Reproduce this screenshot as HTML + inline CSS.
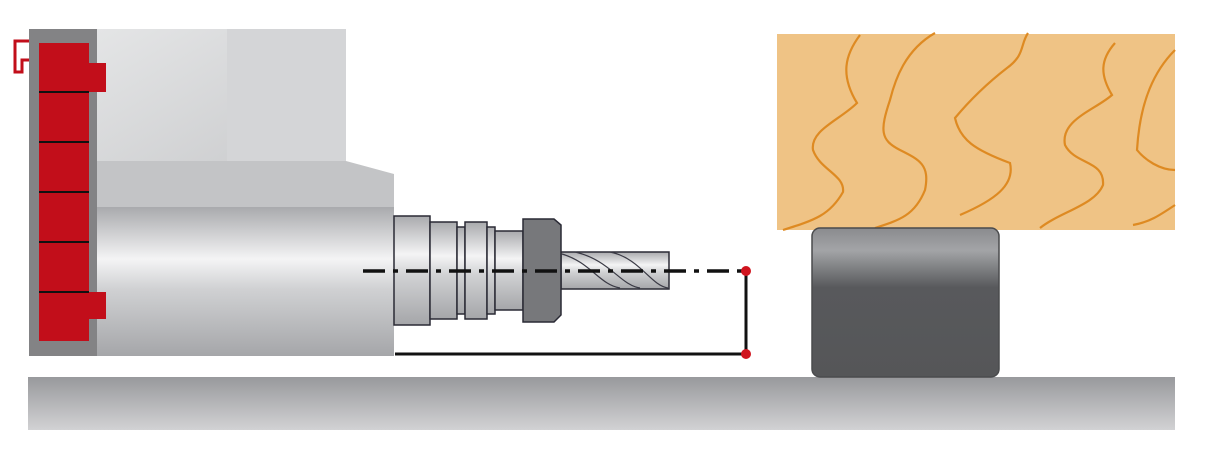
<!DOCTYPE html>
<html><head><style>body{margin:0;background:#fff}svg{display:block}</style></head><body>
<svg width="1218" height="460" viewBox="0 0 1218 460" xmlns="http://www.w3.org/2000/svg">
<defs>
<linearGradient id="cyl" x1="0" y1="0" x2="0" y2="1">
<stop offset="0" stop-color="#a9aaad"/><stop offset="0.35" stop-color="#f4f4f5"/><stop offset="0.55" stop-color="#d0d1d3"/><stop offset="1" stop-color="#a5a6a9"/></linearGradient>
<linearGradient id="blk" x1="0" y1="0" x2="0" y2="1">
<stop offset="0" stop-color="#8a8b8e"/><stop offset="0.15" stop-color="#a3a4a7"/><stop offset="0.4" stop-color="#58595c"/><stop offset="1" stop-color="#555658"/></linearGradient>
<linearGradient id="base" x1="0" y1="0" x2="0" y2="1">
<stop offset="0" stop-color="#98999c"/><stop offset="1" stop-color="#d2d2d4"/></linearGradient>
<linearGradient id="top" x1="0" y1="0" x2="1" y2="1">
<stop offset="0" stop-color="#e4e5e6"/><stop offset="1" stop-color="#c8c9cb"/></linearGradient>
</defs>
<rect x="28" y="377" width="1147" height="53" fill="url(#base)"/>
<rect x="97" y="29" width="249" height="140" fill="url(#top)"/>
<rect x="227" y="29" width="119" height="140" fill="#d4d5d7"/>
<polygon points="97,161 346,161 394,174 394,208 97,208" fill="#c3c4c6"/>
<rect x="97" y="207" width="297" height="149" fill="url(#cyl)"/>
<rect x="29" y="29" width="68" height="327" fill="#838385"/>
<rect x="39" y="43" width="50" height="298" fill="#c20e1a"/>
<rect x="89" y="63" width="17" height="29" fill="#c20e1a"/>
<rect x="89" y="292" width="17" height="27" fill="#c20e1a"/>
<path d="M29,41 H15 V72 H22 V60 H29" fill="none" stroke="#c20e1a" stroke-width="3"/>
<g stroke="#111" stroke-width="2"><line x1="39" y1="92" x2="89" y2="92"/><line x1="39" y1="142" x2="89" y2="142"/><line x1="39" y1="192" x2="89" y2="192"/><line x1="39" y1="242" x2="89" y2="242"/><line x1="39" y1="292" x2="89" y2="292"/></g>
<g stroke="#2a2a35" stroke-width="1.5" fill="url(#cyl)">
<rect x="394" y="216" width="36" height="109"/>
<rect x="430" y="222" width="27" height="97"/>
<rect x="457" y="227" width="8" height="87"/>
<rect x="465" y="222" width="22" height="97"/>
<rect x="487" y="227" width="8" height="87"/>
<rect x="495" y="231" width="28" height="79"/>
<rect x="561" y="252" width="108" height="37"/>
</g>
<path d="M562,254 C590,262 600,285 620,288 M575,252 C610,260 620,285 640,288 M610,252 C640,258 650,285 668,288" fill="none" stroke="#3a3a45" stroke-width="1.2"/>
<polygon points="523,219 554,219 561,225 561,315 554,322 523,322" fill="#77787b" stroke="#2a2a35" stroke-width="1.5"/>
<line x1="363" y1="271" x2="746" y2="271" stroke="#111" stroke-width="3.5" stroke-dasharray="22,8,5,8"/>
<polyline points="395,354 746,354 746,271" fill="none" stroke="#111" stroke-width="3"/>
<circle cx="746" cy="271" r="5" fill="#d0141e"/><circle cx="746" cy="354" r="5" fill="#d0141e"/>
<rect x="777" y="34" width="398" height="196" fill="#efc385"/>
<g fill="none" stroke="#de8a22" stroke-width="2.2">
<path d="M860,35 C845,55 840,75 857,103 C840,120 810,130 813,150 C820,170 845,175 843,192 C830,215 815,220 783,230"/>
<path d="M935,33 C905,50 895,80 890,100 C880,130 880,140 900,150 C920,160 930,165 925,190 C915,215 900,220 875,228"/>
<path d="M1028,33 C1020,45 1025,55 1007,68 C985,85 970,100 955,118 C960,140 975,150 1010,163 C1015,185 995,200 960,215"/>
<path d="M1115,43 C1100,60 1100,75 1112,95 C1095,110 1060,120 1065,145 C1075,165 1105,160 1103,185 C1095,205 1060,212 1040,228"/>
<path d="M1175,50 C1155,70 1140,100 1137,150 C1145,160 1160,170 1175,170 M1175,205 C1160,215 1150,222 1133,225"/>
</g>
<rect x="812" y="228" width="187" height="149" rx="8" fill="url(#blk)" stroke="#4a4b4d" stroke-width="1.5"/>
</svg>
</body></html>
